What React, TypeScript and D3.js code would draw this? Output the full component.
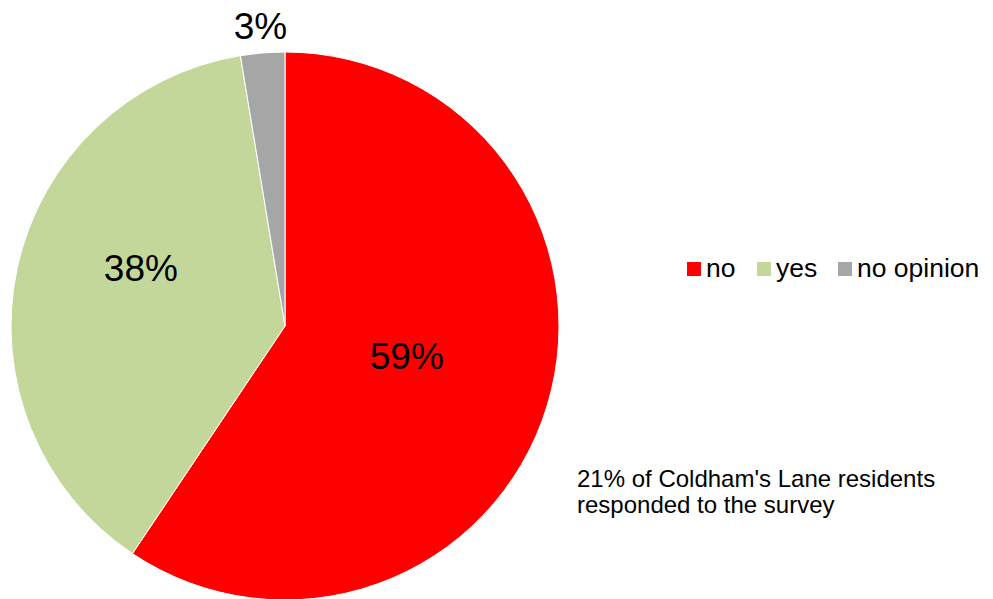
import React from "react";
import * as d3 from "d3";

const categories = ["no", "yes", "no opinion"];
const values = [59.4, 38.0, 2.6];
const colors = ["#FF0000", "#C4D79B", "#A6A6A6"];
const labelRadiusFactor = [0.458, 0.566, 1.095];
const labelAngleFraction = [0.486, 0.569, 0.5];
const note = ["21% of Coldham's Lane residents", "responded to the survey"];

export default function App() {
  const width = 993;
  const height = 599;
  const cx = 285;
  const cy = 326;
  const r = 274;
  const total = d3.sum(values);
  const pie = d3.pie<number>().sort(null).value((d) => d);
  const arcs = pie(values);
  const arc = d3.arc<d3.PieArcDatum<number>>().innerRadius(0).outerRadius(r);

  const legendX = [687, 757, 838];
  return (
    <svg
      width={width}
      height={height}
      style={{ position: "absolute", left: 0, top: 0, fontFamily: "Liberation Sans, Arial, sans-serif" }}
    >
      <rect width={width} height={height} fill="#fff" />
      <g transform={`translate(${cx},${cy})`}>
        {arcs.map((a, i) => (
          <path key={i} d={arc(a) || ""} fill={colors[i]} stroke="#fff" strokeWidth={1} />
        ))}
        {arcs.map((a, i) => {
          const ang = a.startAngle + (a.endAngle - a.startAngle) * labelAngleFraction[i];
          const lr = r * labelRadiusFactor[i];
          const x = Math.sin(ang) * lr;
          const y = -Math.cos(ang) * lr;
          return (
            <text key={i} x={x} y={y} textAnchor="middle" dominantBaseline="central" fontSize={37} fill="#000">
              {Math.round((values[i] / total) * 100)}%
            </text>
          );
        })}
      </g>
      <g>
        {categories.map((c, i) => (
          <g key={c}>
            <rect x={legendX[i]} y={262} width={14} height={14} fill={colors[i]} />
            <text x={legendX[i] + 19} y={277} fontSize={26.5} fill="#000">{c}</text>
          </g>
        ))}
      </g>
      <text x={577} y={487} fontSize={24} fill="#000">{note[0]}</text>
      <text x={577} y={513} fontSize={24} fill="#000">{note[1]}</text>
    </svg>
  );
}
